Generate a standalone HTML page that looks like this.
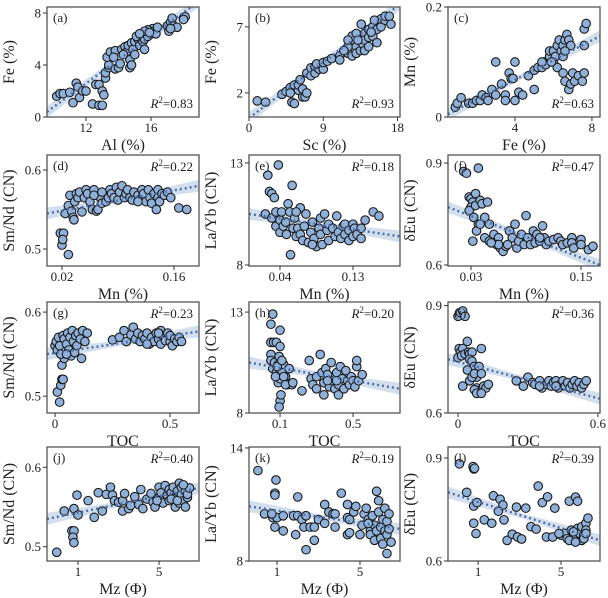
<!DOCTYPE html>
<html><head><meta charset="utf-8">
<style>
html,body{margin:0;padding:0;background:#fff;}
svg{display:block;font-family:"Liberation Serif",serif;}
</style></head>
<body>
<svg id="chart" width="608" height="598" viewBox="0 0 608 598" xmlns="http://www.w3.org/2000/svg"></svg>
<script>
// ---------- data ----------
const ptsA=[[10.2,1.6],[10.4,1.8],[10.6,1.8],[11,1.9],[11.2,1.1],[11.4,2.6],[11.5,2.3],[11.6,1.5],[11.8,2.0],[12.0,2.0],[12.4,1.0],[12.6,2.5],[12.8,0.9],[12.8,2.5],[13.0,0.9],[13.0,2.0],[13.1,1.7],[13.2,3.0],[13.2,3.4],[13.4,3.8],[13.4,4.0],[13.3,4.6],[13.5,5.0],[13.8,5.1],[13.8,3.7],[14.0,3.8],[14.1,4.1],[14.2,5.2],[14.4,5.4],[14.5,5.0],[14.6,5.5],[14.7,3.8],[14.7,4.4],[14.8,4.0],[14.8,5.7],[14.9,5.2],[15.0,5.8],[15.0,4.8],[15.2,6.0],[15.3,5.5],[15.4,6.1],[15.5,6.3],[15.5,5.8],[15.6,6.0],[15.6,5.2],[15.7,6.5],[15.8,6.2],[15.9,6.6],[16.0,6.4],[16.0,6.7],[16.1,6.8],[16.2,6.6],[16.3,6.4],[16.4,6.9],[15.8,6.7],[15.6,6.6],[17.0,7.0],[17.1,6.6],[17.2,7.3],[17.3,7.6],[17.4,7.0],[17.6,6.9],[17.2,6.8],[18.0,7.6],[18.1,7.7],[18.0,7.5],[15.1,6.2],[14.3,4.8],[13.7,4.6],[15.3,6.4],[15.9,6.5]];
const ptsB=[[1,1.4],[2,1.3],[4,1.9],[4.5,2.1],[5,2.4],[5.2,1.3],[5.5,1.2],[5.5,2.6],[5,2.0],[6,2.2],[6,2.6],[6.5,1.7],[6.8,1.7],[6.5,2.3],[7,2.0],[6.2,3.0],[7,3.5],[7.5,3.3],[7.5,3.9],[8,3.5],[8,4.0],[8.5,3.8],[8.2,4.2],[9,3.8],[9,4.3],[9.5,4.4],[10,4.6],[11,4.8],[11,4.5],[12,5.0],[12,5.5],[12.5,4.8],[12.5,6.0],[12.5,6.3],[13,5.5],[13,5.0],[13,6.5],[13.5,5.2],[13.5,6.0],[13.8,5.7],[13.6,7.2],[14,5.2],[14,6.5],[14,6.0],[14.5,6.2],[14.5,6.8],[14.5,5.5],[15,6.3],[15,7.0],[15.5,6.8],[15.5,5.8],[16,7.0],[16,7.6],[16.5,7.5],[16.5,7.8],[17,7.8],[17.2,7.2],[15.2,7.5],[12,6.0],[13.2,6.0],[14.8,6.6],[11.5,5.2]];
const ptsC=[[0.9,0.018],[1.0,0.025],[1.2,0.035],[1.6,0.025],[1.8,0.025],[2.0,0.03],[2.2,0.03],[2.3,0.04],[2.5,0.035],[2.6,0.03],[2.8,0.05],[3.0,0.04],[3.0,0.1],[3.3,0.06],[3.5,0.04],[3.5,0.03],[3.7,0.08],[3.8,0.07],[3.9,0.07],[4.0,0.03],[4.0,0.1],[4.2,0.045],[4.4,0.04],[4.7,0.075],[5.0,0.05],[5.0,0.085],[5.2,0.09],[5.4,0.09],[5.5,0.1],[5.6,0.095],[5.8,0.11],[5.8,0.12],[6.0,0.1],[6.0,0.12],[6.1,0.11],[6.2,0.09],[6.2,0.13],[6.3,0.14],[6.4,0.12],[6.5,0.13],[6.6,0.14],[6.7,0.15],[6.8,0.14],[6.5,0.08],[6.6,0.065],[6.8,0.05],[6.9,0.06],[7.0,0.08],[7.1,0.065],[7.3,0.075],[7.5,0.065],[7.6,0.08],[7.6,0.13],[7.6,0.16],[7.7,0.17],[5.9,0.1],[6.5,0.11],[5.4,0.1],[6.9,0.13],[6.6,0.12]];
const ptsD=[[0.018,0.52],[0.022,0.52],[0.02,0.505],[0.021,0.512],[0.028,0.493],[0.024,0.545],[0.028,0.555],[0.03,0.568],[0.032,0.548],[0.034,0.54],[0.035,0.537],[0.036,0.56],[0.038,0.57],[0.04,0.565],[0.042,0.572],[0.045,0.547],[0.048,0.565],[0.05,0.575],[0.052,0.57],[0.055,0.56],[0.058,0.55],[0.06,0.575],[0.063,0.548],[0.065,0.55],[0.068,0.565],[0.07,0.558],[0.075,0.56],[0.078,0.565],[0.08,0.575],[0.082,0.57],[0.085,0.565],[0.088,0.578],[0.09,0.562],[0.092,0.572],[0.095,0.58],[0.098,0.565],[0.1,0.57],[0.102,0.575],[0.105,0.565],[0.108,0.562],[0.11,0.572],[0.115,0.568],[0.12,0.575],[0.12,0.565],[0.122,0.57],[0.125,0.56],[0.128,0.575],[0.13,0.565],[0.132,0.558],[0.135,0.57],[0.138,0.55],[0.14,0.575],[0.14,0.565],[0.142,0.56],[0.145,0.57],[0.148,0.568],[0.152,0.572],[0.156,0.565],[0.166,0.552],[0.176,0.55],[0.06,0.568],[0.07,0.572],[0.115,0.56]];
const ptsE=[[0.022,10.5],[0.025,12.4],[0.027,11.6],[0.03,11.5],[0.03,10.3],[0.033,11.3],[0.035,10.6],[0.035,9.9],[0.038,12.9],[0.04,10.2],[0.04,9.6],[0.042,10.6],[0.044,9.9],[0.047,10.1],[0.048,9.5],[0.05,11.0],[0.052,10.6],[0.053,8.5],[0.055,11.9],[0.056,9.8],[0.058,10.3],[0.06,9.4],[0.062,9.8],[0.065,9.5],[0.065,10.8],[0.068,9.2],[0.07,9.9],[0.072,10.5],[0.075,9.1],[0.078,9.6],[0.08,10.1],[0.082,9.3],[0.085,8.9],[0.088,9.8],[0.09,10.3],[0.09,9.5],[0.092,9.0],[0.095,10.5],[0.098,9.7],[0.1,9.2],[0.1,10.0],[0.105,9.8],[0.108,9.4],[0.11,10.4],[0.112,9.6],[0.115,9.3],[0.118,9.9],[0.12,9.5],[0.12,10.0],[0.125,9.2],[0.125,9.7],[0.13,9.4],[0.13,10.0],[0.132,9.8],[0.135,9.5],[0.14,9.8],[0.14,9.3],[0.145,10.2],[0.155,10.6],[0.162,10.4],[0.08,9.0],[0.06,10.6]];
const ptsF=[[0.022,0.875],[0.025,0.87],[0.038,0.885],[0.028,0.8],[0.03,0.795],[0.032,0.785],[0.03,0.77],[0.028,0.76],[0.035,0.775],[0.033,0.74],[0.035,0.81],[0.04,0.79],[0.042,0.78],[0.045,0.74],[0.048,0.785],[0.05,0.72],[0.038,0.72],[0.032,0.67],[0.036,0.7],[0.04,0.72],[0.045,0.68],[0.05,0.67],[0.055,0.69],[0.06,0.68],[0.058,0.66],[0.062,0.65],[0.065,0.64],[0.068,0.655],[0.07,0.66],[0.072,0.7],[0.075,0.68],[0.078,0.72],[0.08,0.65],[0.082,0.67],[0.085,0.69],[0.088,0.66],[0.09,0.745],[0.092,0.68],[0.095,0.66],[0.098,0.7],[0.1,0.665],[0.102,0.69],[0.105,0.67],[0.108,0.715],[0.11,0.68],[0.112,0.66],[0.115,0.67],[0.12,0.675],[0.125,0.68],[0.128,0.67],[0.13,0.66],[0.135,0.665],[0.14,0.68],[0.14,0.665],[0.142,0.65],[0.15,0.675],[0.15,0.66],[0.158,0.645],[0.163,0.655],[0.06,0.66],[0.052,0.665],[0.105,0.68]];
const ptsG=[[0.01,0.505],[0.02,0.493],[0.025,0.513],[0.03,0.52],[0.035,0.52],[0.03,0.537],[0.04,0.545],[0.0,0.56],[0.005,0.565],[0.01,0.555],[0.015,0.57],[0.02,0.56],[0.025,0.55],[0.035,0.572],[0.04,0.568],[0.05,0.562],[0.055,0.575],[0.06,0.555],[0.065,0.57],[0.07,0.548],[0.075,0.578],[0.08,0.565],[0.085,0.552],[0.09,0.572],[0.095,0.56],[0.1,0.575],[0.11,0.568],[0.115,0.545],[0.12,0.578],[0.13,0.565],[0.14,0.575],[0.05,0.55],[0.25,0.567],[0.28,0.57],[0.3,0.578],[0.31,0.565],[0.33,0.573],[0.34,0.582],[0.35,0.568],[0.36,0.575],[0.37,0.565],[0.38,0.572],[0.39,0.568],[0.4,0.575],[0.41,0.562],[0.42,0.57],[0.43,0.565],[0.44,0.575],[0.45,0.568],[0.46,0.562],[0.46,0.578],[0.47,0.572],[0.48,0.566],[0.49,0.575],[0.5,0.565],[0.5,0.572],[0.51,0.56],[0.52,0.568],[0.53,0.565],[0.54,0.57],[0.55,0.565],[0.45,0.575],[0.4,0.562]];
const ptsH=[[0.06,12.9],[0.05,12.4],[0.05,11.5],[0.05,10.9],[0.05,10.6],[0.06,10.2],[0.065,11.5],[0.08,11.5],[0.07,10.5],[0.08,10.0],[0.09,10.4],[0.09,9.5],[0.095,10.8],[0.1,11.3],[0.1,10.0],[0.1,9.7],[0.11,10.1],[0.1,8.6],[0.095,8.3],[0.105,8.9],[0.12,10.4],[0.13,9.8],[0.14,9.4],[0.15,10.2],[0.165,9.4],[0.075,9.8],[0.085,10.3],[0.1,12.1],[0.11,10.6],[0.12,9.8],[0.13,9.4],[0.17,9.5],[0.22,9.1],[0.26,10.6],[0.27,9.7],[0.28,9.4],[0.3,9.8],[0.3,9.2],[0.32,10.9],[0.33,10.0],[0.34,9.5],[0.34,8.9],[0.35,10.2],[0.36,9.9],[0.37,9.3],[0.38,10.5],[0.39,9.6],[0.4,9.2],[0.41,10.0],[0.42,9.4],[0.42,8.9],[0.43,10.3],[0.44,9.7],[0.45,9.2],[0.46,10.1],[0.47,9.6],[0.48,9.4],[0.49,9.8],[0.5,9.6],[0.51,9.3],[0.52,10.3],[0.52,10.6],[0.53,9.6],[0.55,9.9],[0.36,9.6],[0.41,9.6]];
const ptsI=[[0.0,0.87],[0.01,0.88],[0.02,0.885],[0.03,0.87],[0.005,0.78],[0.01,0.77],[0.02,0.78],[0.0,0.755],[0.015,0.76],[0.03,0.765],[0.04,0.8],[0.045,0.77],[0.05,0.765],[0.06,0.77],[0.05,0.75],[0.06,0.745],[0.07,0.73],[0.08,0.7],[0.09,0.73],[0.1,0.78],[0.04,0.72],[0.05,0.69],[0.06,0.7],[0.07,0.71],[0.08,0.67],[0.09,0.66],[0.1,0.665],[0.11,0.675],[0.12,0.67],[0.1,0.71],[0.13,0.68],[0.02,0.675],[0.07,0.665],[0.08,0.655],[0.1,0.655],[0.25,0.69],[0.3,0.7],[0.28,0.675],[0.32,0.685],[0.33,0.68],[0.35,0.69],[0.36,0.67],[0.38,0.68],[0.39,0.69],[0.4,0.675],[0.41,0.685],[0.42,0.69],[0.43,0.67],[0.44,0.68],[0.45,0.69],[0.46,0.675],[0.47,0.685],[0.48,0.67],[0.49,0.68],[0.5,0.69],[0.51,0.675],[0.52,0.685],[0.53,0.67],[0.54,0.68],[0.55,0.69],[0.35,0.675],[0.42,0.675]];
const ptsJ=[[-0.05,0.493],[0.32,0.545],[0.7,0.52],[0.8,0.52],[0.75,0.512],[0.8,0.505],[0.95,0.565],[0.8,0.548],[1.0,0.54],[1.5,0.558],[1.8,0.537],[2.0,0.568],[2.2,0.545],[2.4,0.566],[2.6,0.575],[2.7,0.565],[2.8,0.558],[3.0,0.556],[3.2,0.558],[3.3,0.567],[3.2,0.545],[3.5,0.548],[3.6,0.552],[3.8,0.563],[4.0,0.553],[4.1,0.572],[4.2,0.548],[4.4,0.56],[4.6,0.567],[4.7,0.556],[4.8,0.55],[5.0,0.562],[5.0,0.575],[5.1,0.568],[5.2,0.555],[5.3,0.577],[5.4,0.565],[5.5,0.572],[5.5,0.558],[5.6,0.568],[5.7,0.575],[5.8,0.55],[5.8,0.562],[5.9,0.57],[6.0,0.58],[6.0,0.555],[6.1,0.566],[6.1,0.575],[6.2,0.558],[6.3,0.57],[6.3,0.55],[6.4,0.562],[6.4,0.566],[6.5,0.574],[5.6,0.56],[5.9,0.558],[6.2,0.578],[4.9,0.558]];
const ptsK=[[0.08,12.8],[0.95,12.3],[0.9,11.6],[0.9,11.5],[2.0,11.4],[4.1,11.6],[5.8,11.7],[5.9,11.2],[3.3,11.0],[4.4,11.0],[0.4,10.5],[0.8,10.3],[1.0,10.3],[0.75,10.5],[1.8,10.4],[2.0,10.4],[2.2,10.2],[2.4,10.4],[3.5,10.6],[3.7,10.5],[3.8,10.5],[3.0,10.2],[3.3,10.0],[4.4,10.3],[4.5,10.2],[4.7,10.6],[4.8,10.9],[0.9,9.8],[1.3,9.6],[1.9,9.4],[2.3,9.8],[2.6,9.8],[2.8,9.8],[2.8,9.1],[3.8,9.8],[4.4,9.4],[4.5,9.5],[5.0,9.4],[5.2,10.5],[5.3,10.8],[5.4,10.2],[5.5,9.6],[5.5,9.4],[5.6,10.4],[5.7,9.9],[5.7,9.1],[5.8,9.6],[5.9,10.6],[6.0,9.8],[6.0,9.2],[6.1,10.2],[6.1,8.9],[6.2,9.6],[6.2,10.8],[6.3,9.4],[6.3,10.1],[6.4,10.5],[6.4,9.7],[6.5,9.0],[6.3,8.4],[2.4,8.6],[5.1,9.9],[5.4,10.0],[1.3,10.4]];
const ptsL=[[0.1,0.883],[0.76,0.875],[0.8,0.868],[0.83,0.87],[0.45,0.80],[0.79,0.76],[0.95,0.77],[0.79,0.71],[0.9,0.68],[1.3,0.72],[1.66,0.71],[1.74,0.79],[2.06,0.78],[2.2,0.763],[1.98,0.745],[2.25,0.72],[2.4,0.66],[2.65,0.678],[2.9,0.67],[3.1,0.664],[2.85,0.757],[3.3,0.754],[3.55,0.70],[3.8,0.693],[3.9,0.818],[4.1,0.77],[4.35,0.787],[4.3,0.67],[4.7,0.754],[4.6,0.67],[5.0,0.675],[5.2,0.68],[5.3,0.665],[5.4,0.774],[5.5,0.69],[5.6,0.67],[5.7,0.786],[5.8,0.774],[5.8,0.695],[5.9,0.68],[6.0,0.66],[6.0,0.7],[6.1,0.675],[6.2,0.71],[6.3,0.725],[6.2,0.69],[5.4,0.66],[5.7,0.655],[6.1,0.665],[4.9,0.68],[5.6,0.685],[6.2,0.68]];

// trend line values at left / right edge of x-domain
const trendA=[0.4,8.9], trendB=[0.1,8.7], trendC=[0.005,0.147];
const trendD=[0.545,0.58], trendE=[10.5,9.4], trendF=[0.77,0.6];
const trendG=[0.55,0.577], trendH=[10.5,9.2], trendI=[0.75,0.64];
const trendJ=[0.535,0.574], trendK=[10.9,9.7], trendL=[0.8,0.66];

const r2Labels=["0.83","0.93","0.63","0.22","0.18","0.47","0.23","0.20","0.36","0.40","0.19","0.39"];
const panelLetters=["(a)","(b)","(c)","(d)","(e)","(f)","(g)","(h)","(i)","(j)","(k)","(l)"];
const xTitles=["Al (%)","Sc (%)","Fe (%)","Mn (%)","Mn (%)","Mn (%)","TOC","TOC","TOC","Mz (Φ)","Mz (Φ)","Mz (Φ)"];
const yTitles=["Fe (%)","Fe (%)","Mn (%)","Sm/Nd (CN)","La/Yb (CN)","δEu (CN)","Sm/Nd (CN)","La/Yb (CN)","δEu (CN)","Sm/Nd (CN)","La/Yb (CN)","δEu (CN)"];
const xTicks=[[12,16],[0,9,18],[4,8],[0.02,0.16],[0.04,0.13],[0.03,0.15],[0,0.5],[0.1,0.5],[0,0.6],[1,5],[1,5],[1,5]];
const xTickLabels=[["12","16"],["0","9","18"],["4","8"],["0.02","0.16"],["0.04","0.13"],["0.03","0.15"],["0","0.5"],["0.1","0.5"],["0","0.6"],["1","5"],["1","5"],["1","5"]];
const yTicks=[[0,4,8],[2,7],[0,0.2],[0.5,0.6],[8,13],[0.6,0.9],[0.5,0.6],[8,13],[0.6,0.9],[0.5,0.6],[8,14],[0.6,0.9]];
const yTickLabels=[["0","4","8"],["2","7"],["0","0.2"],["0.5","0.6"],["8","13"],["0.6","0.9"],["0.5","0.6"],["8","13"],["0.6","0.9"],["0.5","0.6"],["8","14"],["0.6","0.9"]];
const xDomains=[[9.6,18.95],[0,18.3],[0.52,8.42],[0.0013,0.1913],[0.0018,0.188],[0.0049,0.1707],[-0.035,0.626],[-0.07,0.757],[-0.043,0.609],[-0.53,6.97],[-0.35,6.93],[-0.45,6.88]];
const yDomains=[[0,8.46],[0.18,8.5],[0,0.2],[0.4785,0.619],[7.95,13.39],[0.597,0.9235],[0.48,0.612],[8,13.5],[0.6,0.91],[0.482,0.6256],[8,14.05],[0.6,0.932]];

const allPts=[ptsA,ptsB,ptsC,ptsD,ptsE,ptsF,ptsG,ptsH,ptsI,ptsJ,ptsK,ptsL];
const allTrends=[trendA,trendB,trendC,trendD,trendE,trendF,trendG,trendH,trendI,trendJ,trendK,trendL];

// ---------- layout ----------
const colL=[47,249,448], colW=[152,151,152];
const rowT=[7,155,302,447], rowB=[117,266,413,561];
const r2Bottom=[true,true,true,false,false,false,false,false,false,false,false,false];
const NS="http://www.w3.org/2000/svg";
const svg=document.getElementById('chart');
function mk(tag,attrs,parent){const e=document.createElementNS(NS,tag);for(const k in attrs)e.setAttribute(k,attrs[k]);(parent||svg).appendChild(e);return e;}

const defs=mk('defs',{});
for(let i=0;i<12;i++){
  const c=i%3,r=Math.floor(i/3);
  const L=colL[c],W=colW[c],T=rowT[r],B=rowB[r],H=B-T;
  const xd=xDomains[i],yd=yDomains[i];
  const sx=v=>L+(v-xd[0])/(xd[1]-xd[0])*W;
  const sy=v=>B-(v-yd[0])/(yd[1]-yd[0])*H;
  const g=mk('g',{});
  
  
  const cp=mk('clipPath',{id:'cp'+i},defs);
  mk('rect',{x:L,y:T,width:W,height:H},cp);
  const inner=mk('g',{'clip-path':'url(#cp'+i+')'},g);
  // confidence band
  const tr=allTrends[i];
  const x0=sx(xd[0]),x1=sx(xd[1]),y0=sy(tr[0]),y1=sy(tr[1]);
  const xm=(x0+x1)/2,ym=(y0+y1)/2;
  const band=mk('polygon',{points:`${x0},${y0-6} ${xm},${ym-2.5} ${x1},${y1-6} ${x1},${y1+6} ${xm},${ym+2.5} ${x0},${y0+6}`,fill:'#c9d7e8',opacity:'0.8'},inner);
  
  
  // points
  allPts[i].forEach(p=>{
    const ci=mk('circle',{cx:sx(p[0]),cy:sy(p[1]),r:4.3,fill:'#8fb0d8',stroke:'#1a1a1a','stroke-width':1.1},inner);
    
    
  });
  const ln=mk('line',{x1:x0,y1:y0,x2:x1,y2:y1,stroke:'#4b6ea8','stroke-width':2.4,'stroke-dasharray':'2 3'},inner);
  
  
  // frame
  const fr=mk('rect',{x:L,y:T,width:W,height:H,fill:'none',stroke:'#555','stroke-width':1.3},g);
  
  
  // ticks
  xTicks[i].forEach((v,k)=>{
    const x=sx(v);
    mk('line',{x1:x,y1:B,x2:x,y2:B+4,stroke:'#333','stroke-width':1},g);
    const t=mk('text',{x:x,y:B+15,'text-anchor':'middle','font-size':13,fill:'#222'},g);
    t.textContent=xTickLabels[i][k];
    
    
  });
  yTicks[i].forEach((v,k)=>{
    const y=sy(v);
    mk('line',{x1:L-4,y1:y,x2:L,y2:y,stroke:'#333','stroke-width':1},g);
    const t=mk('text',{x:L-6,y:y+4.5,'text-anchor':'end','font-size':13,fill:'#222'},g);
    t.textContent=yTickLabels[i][k];
    
    
  });
  // titles
  const xt=mk('text',{x:L+W/2,y:B+33,'text-anchor':'middle','font-size':16,fill:'#222'},g);
  xt.textContent=xTitles[i];
  
  
  const yx=L-33, yy=(T+B)/2;
  const yt=mk('text',{x:yx,y:yy,'text-anchor':'middle','font-size':16,fill:'#222',transform:`rotate(-90 ${yx} ${yy})`},g);
  yt.textContent=yTitles[i];
  
  
  // letter
  const lt=mk('text',{x:L+6,y:T+15,'font-size':13,fill:'#222'},g);
  lt.textContent=panelLetters[i];
  
  
  // R2
  const ry=r2Bottom[i]?B-9:T+16;
  const rt=mk('text',{x:L+W-6,y:ry,'text-anchor':'end','font-size':13,fill:'#222'},g);
  
  
  const t1=mk('tspan',{'font-style':'italic'},rt);t1.textContent='R';
  const t2=mk('tspan',{'font-size':9,dy:-5},rt);t2.textContent='2';
  const t3=mk('tspan',{dy:5},rt);t3.textContent='=' + r2Labels[i];
}
</script>
</body></html>
